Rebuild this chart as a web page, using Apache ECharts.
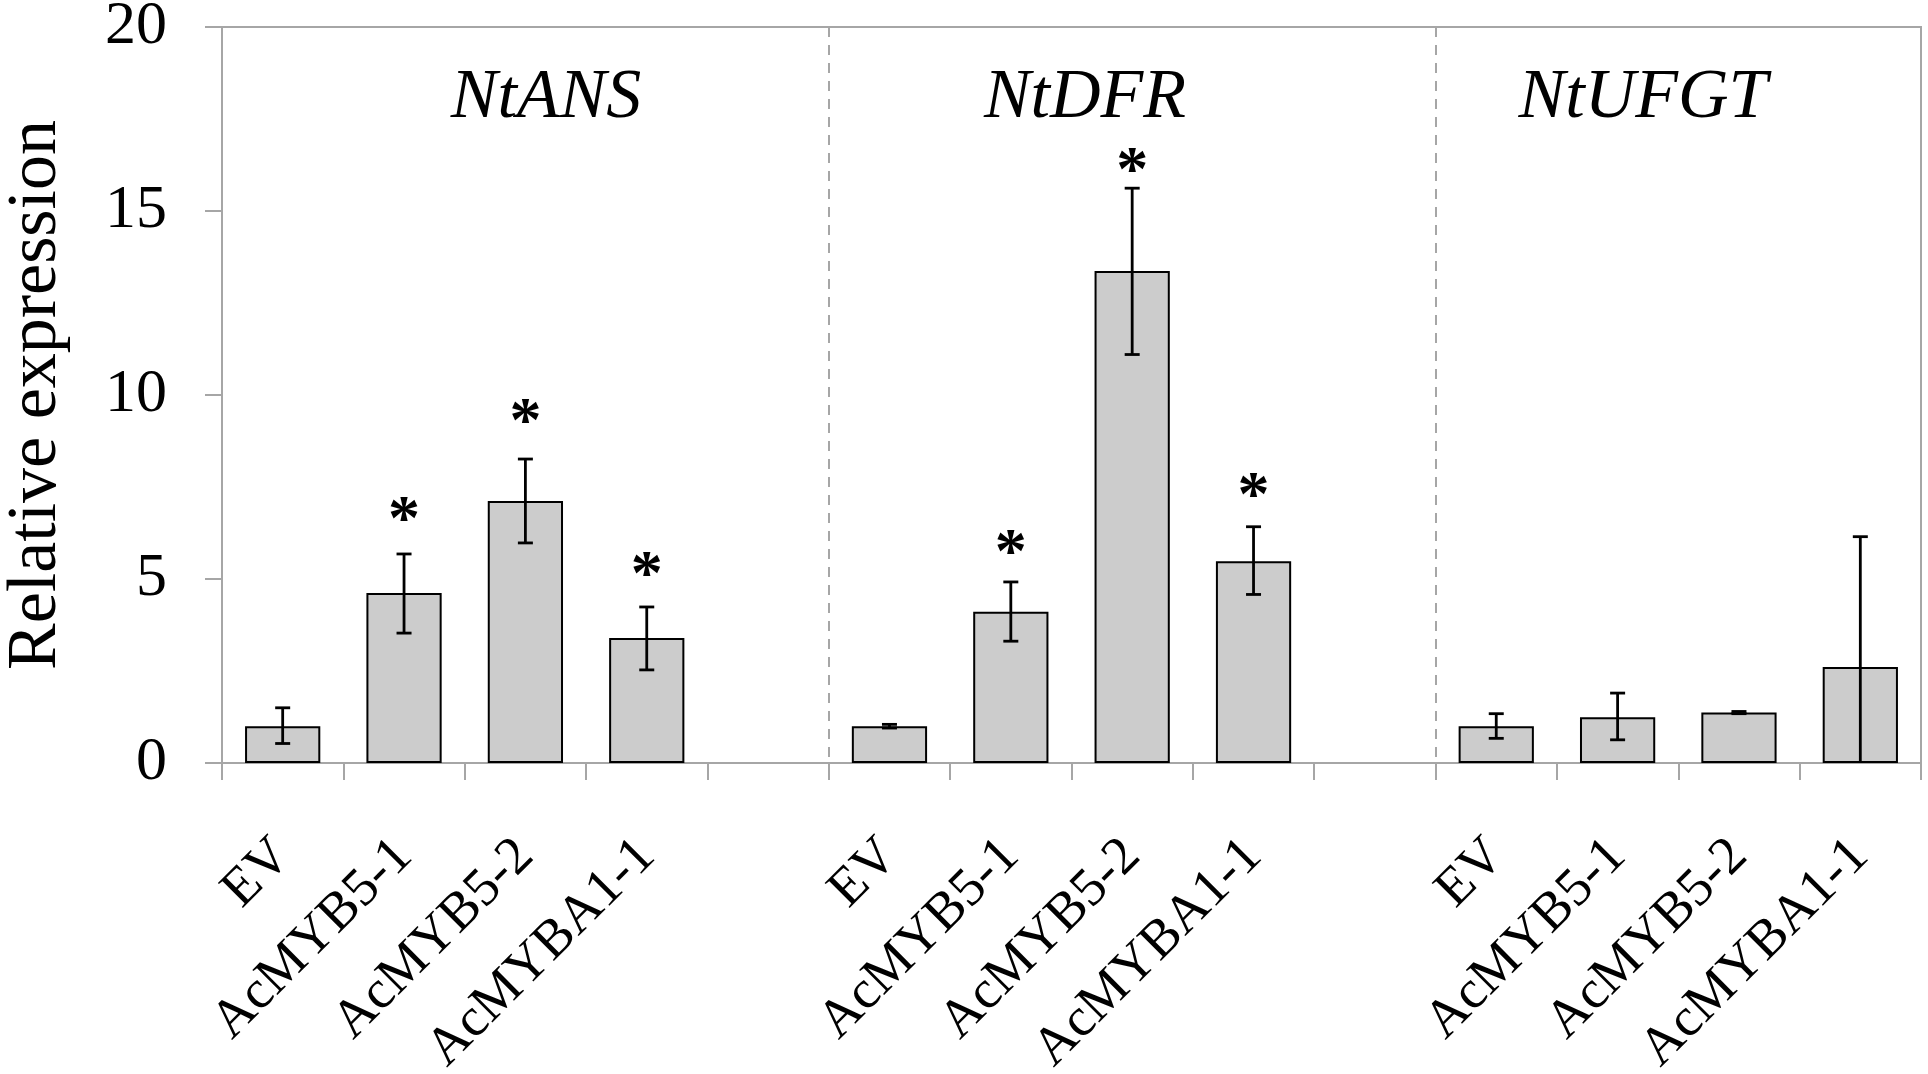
<!DOCTYPE html>
<html>
<head>
<meta charset="utf-8">
<script src="https://cdn.jsdelivr.net/npm/echarts@6/dist/echarts.min.js"></script>
<style>
  html, body { margin: 0; padding: 0; background: #fff; }
  #main { width: 1928px; height: 1074px; }
</style>
</head>
<body>
<div id="main"></div>
<script>
var categories = ['EV', 'AcMYB5-1', 'AcMYB5-2', 'AcMYBA1-1', '',
                  'EV', 'AcMYB5-1', 'AcMYB5-2', 'AcMYBA1-1', '',
                  'EV', 'AcMYB5-1', 'AcMYB5-2', 'AcMYBA1-1'];
var genes = ['NtANS', 'NtDFR', 'NtUFGT'];
var means   = [1.0, 4.62, 7.12, 3.40, null, 1.0, 4.11, 13.37, 5.48, null, 1.0, 1.24, 1.37, 2.61];
var errLow  = [0.53, 3.53, 5.98, 2.53, null, 0.95, 3.31, 11.10, 4.58, null, 0.67, 0.63, 1.34, -0.93];
var errHigh = [1.50, 5.68, 8.26, 4.24, null, 1.05, 4.92, 15.62, 6.42, null, 1.34, 1.90, 1.40, 6.15];
// y position of the significance asterisk (null = none)
var starAt  = [null, 6.82, 9.46, 5.30, null, null, 5.92, 16.3, 7.47, null, null, null, null, null];
var yMin = 0, yMax = 20, yStep = 5;

var serif = "'Liberation Serif', 'Times New Roman', serif";
var gray = '#a6a6a6';

var errData = [];
for (var i = 0; i < categories.length; i++) {
    if (means[i] == null) continue;
    errData.push([i, errLow[i], errHigh[i], starAt[i] == null ? NaN : starAt[i]]);
}

var dom = document.getElementById('main');
var myChart = echarts.init(dom);
var option = {
    animation: false,
    backgroundColor: '#fff',
    title: [
        { text: genes[0], left: 541, top: 59, textAlign: 'center' },
        { text: genes[1], left: 1080, top: 59, textAlign: 'center' },
        { text: genes[2], left: 1638, top: 59, textAlign: 'center' }
    ].map(function (t) {
        t.textStyle = { fontFamily: serif, fontStyle: 'italic', fontWeight: 'normal', fontSize: 70, color: '#000' };
        return t;
    }),
    grid: {
        left: 222,
        right: 7,
        top: 27,
        bottom: 311,
        outerBoundsMode: 'none',
        containLabel: false,
        show: true,
        borderColor: gray,
        borderWidth: 2
    },
    xAxis: {
        type: 'category',
        data: categories,
        axisLine: { lineStyle: { color: gray, width: 2 } },
        axisTick: { show: true, interval: 0, length: 17, lineStyle: { color: gray, width: 2 } },
        axisLabel: {
            interval: 0,
            rotate: 45,
            margin: 85,
            fontFamily: serif,
            fontSize: 54,
            color: '#000'
        },
        splitLine: {
            show: true,
            interval: function (idx) { return idx === 5 || idx === 10; },
            lineStyle: { color: gray, width: 2, type: [10, 8] }
        }
    },
    yAxis: {
        type: 'value',
        min: yMin,
        max: yMax,
        interval: yStep,
        name: 'Relative expression',
        nameLocation: 'middle',
        nameGap: 150,
        nameTextStyle: { fontFamily: serif, fontSize: 70, color: '#000' },
        axisLine: { show: true, lineStyle: { color: gray, width: 2 } },
        axisTick: { show: true, length: 17, lineStyle: { color: gray, width: 2 } },
        axisLabel: { margin: 55, fontFamily: serif, fontSize: 62, color: '#000' },
        splitLine: { show: false }
    },
    series: [
        {
            type: 'bar',
            data: means,
            barWidth: '62%',
            itemStyle: { color: '#cccccc', borderColor: '#000', borderWidth: 2 }
        },
        {
            type: 'custom',
            clip: true,
            data: errData,
            encode: { x: 0, y: [1, 2] },
            renderItem: function (params, api) {
                var x = api.value(0);
                var top = api.coord([x, api.value(2)]);
                var bot = api.coord([x, api.value(1)]);
                var cap = 7.5;
                var st = { stroke: '#000', lineWidth: 2.8 };
                var children = [
                    { type: 'line', shape: { x1: top[0], y1: top[1], x2: bot[0], y2: bot[1] }, style: st },
                    { type: 'line', shape: { x1: top[0] - cap, y1: top[1], x2: top[0] + cap, y2: top[1] }, style: st },
                    { type: 'line', shape: { x1: bot[0] - cap, y1: bot[1], x2: bot[0] + cap, y2: bot[1] }, style: st }
                ];
                var s = api.value(3);
                if (!isNaN(s)) {
                    var p = api.coord([x, s]);
                    children.push({
                        type: 'text',
                        style: {
                            text: '*', x: p[0], y: p[1] + 10,
                            align: 'center', verticalAlign: 'middle',
                            font: 'bold 64px ' + serif, fill: '#000'
                        }
                    });
                }
                return { type: 'group', children: children };
            },
            z: 3
        }
    ]
};
myChart.setOption(option, true);
window.addEventListener('resize', function () {
    myChart.resize();
});
</script>
</body>
</html>
